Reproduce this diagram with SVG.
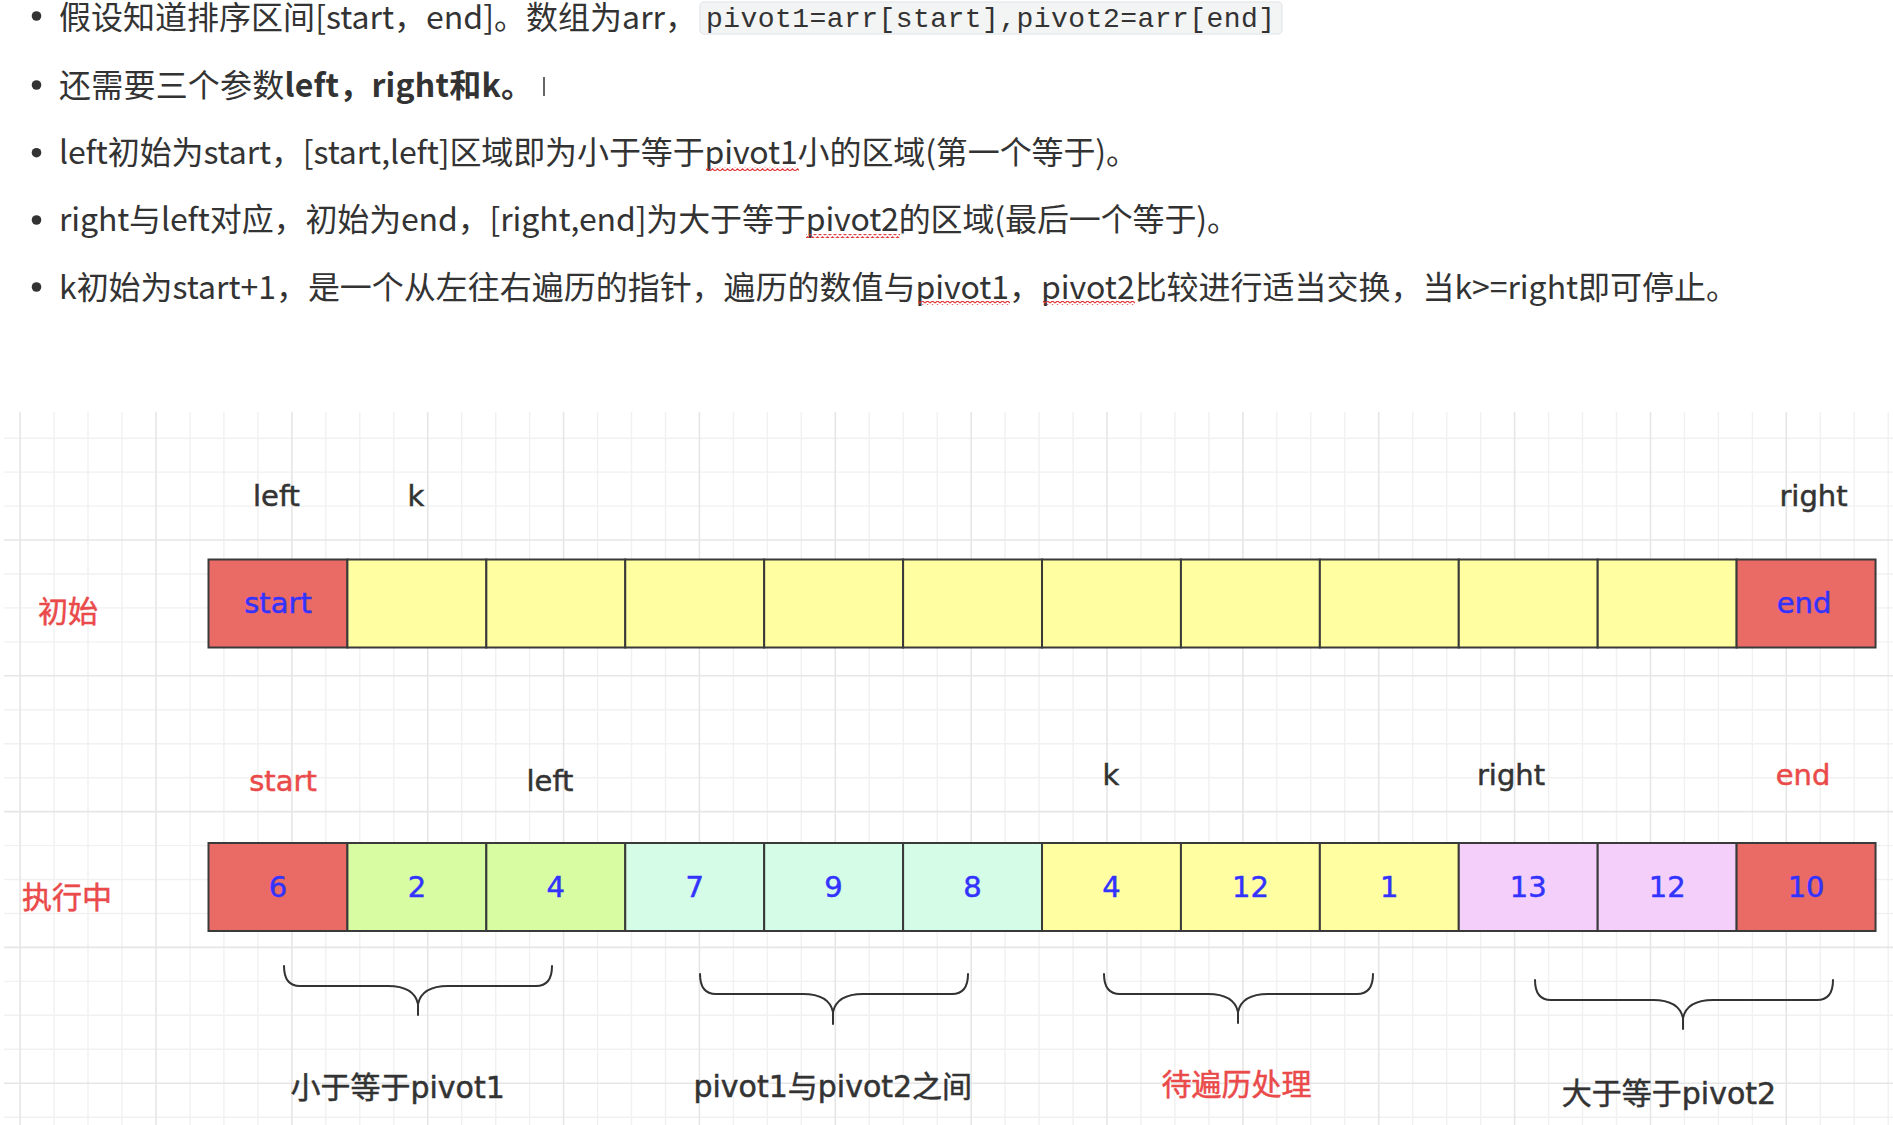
<svg xmlns="http://www.w3.org/2000/svg" width="1893" height="1125" viewBox="0 0 1893 1125">
<style>
.gmin{fill:none;stroke:#f1f1f1;stroke-width:1.4}
.gmaj{fill:none;stroke:#e6e6e6;stroke-width:1.6}
.cell{stroke:#3a3a3a;stroke-width:2}
.red{fill:#EA6B66}.yel{fill:#FFFFA1}.lime{fill:#D7FCA1}.mint{fill:#D5FCE6}.pink{fill:#F3CFFA}
.ct{font-family:"DejaVu Sans",sans-serif;font-size:29px;fill:#3333FF;stroke:#3333FF;stroke-width:0.5;text-anchor:middle}
.lbl{font-family:"DejaVu Sans","Noto Sans CJK SC",sans-serif;font-size:29px;fill:#333333;stroke:#333333;stroke-width:0.5;text-anchor:middle}
.cjk{font-family:"DejaVu Sans","Noto Sans CJK SC",sans-serif;font-size:30px;fill:#333333;stroke:#333333;stroke-width:0.5}
.rd{fill:#EA4A4A;stroke:#EA4A4A}
.brace{fill:none;stroke:#333333;stroke-width:2;stroke-linecap:round}
.doc{font-family:"Noto Sans CJK SC",sans-serif;font-size:32px;fill:#333333}
.code{font-family:"Liberation Mono",monospace;font-size:28px;fill:#333333}
</style>
<defs>
<pattern id="wave" width="5" height="4" patternUnits="userSpaceOnUse"><path d="M0 3 L2.5 0.8 L5 3" fill="none" stroke="#E0393B" stroke-width="1.2"/></pattern>
</defs>
<rect width="1893" height="1125" fill="#ffffff"/>

<g id="doc-text">
<circle cx="36.5" cy="16" r="4.8" fill="#333"/>
<circle cx="36.5" cy="85" r="4.8" fill="#333"/>
<circle cx="36.5" cy="152.7" r="4.8" fill="#333"/>
<circle cx="36.5" cy="220" r="4.8" fill="#333"/>
<circle cx="36.5" cy="287" r="4.8" fill="#333"/>
<text class="doc" x="59" y="28.5" textLength="638">假设知道排序区间[start，end]。数组为arr，</text>
<rect x="700" y="2" width="582" height="32" rx="4" fill="#F3F4F4" stroke="#E7EAED" stroke-width="1.5"/>
<text class="code" x="706" y="27" textLength="569">pivot1=arr[start],pivot2=arr[end]</text>
<text class="doc" x="59" y="96.5" textLength="474">还需要三个参数<tspan font-weight="bold">left，right和k。</tspan></text>
<line x1="544" y1="77" x2="544" y2="96" stroke="#333" stroke-width="1.5"/>
<text class="doc" x="59" y="163.7" textLength="1079">left初始为start，[start,left]区域即为小于等于pivot1小的区域(第一个等于)。</text>
<text class="doc" x="59" y="231.3" textLength="1180">right与left对应，初始为end，[right,end]为大于等于pivot2的区域(最后一个等于)。</text>
<text class="doc" x="59" y="298.9" textLength="1679">k初始为start+1，是一个从左往右遍历的指针，遍历的数值与pivot1，pivot2比较进行适当交换，当k&gt;=right即可停止。</text>
<rect x="706" y="167" width="93" height="4" fill="url(#wave)"/>
<rect x="806" y="234" width="94" height="4" fill="url(#wave)"/>
<rect x="918" y="301" width="92" height="4" fill="url(#wave)"/>
<rect x="1043" y="301" width="92" height="4" fill="url(#wave)"/>
</g>

<g id="grid">
<path class="gmin" d="M54.1 412V1125M88 412V1125M122 412V1125M190 412V1125M223.9 412V1125M257.9 412V1125M325.8 412V1125M359.8 412V1125M393.8 412V1125M461.7 412V1125M495.7 412V1125M529.6 412V1125M597.6 412V1125M631.5 412V1125M665.5 412V1125M733.4 412V1125M767.4 412V1125M801.3 412V1125M869.3 412V1125M903.2 412V1125M937.2 412V1125M1005.1 412V1125M1039.1 412V1125M1073.1 412V1125M1141 412V1125M1174.9 412V1125M1208.9 412V1125M1276.8 412V1125M1310.8 412V1125M1344.8 412V1125M1412.7 412V1125M1446.7 412V1125M1480.6 412V1125M1548.6 412V1125M1582.5 412V1125M1616.5 412V1125M1684.4 412V1125M1718.4 412V1125M1752.4 412V1125M1820.3 412V1125M1854.2 412V1125M1888.2 412V1125"/>
<path class="gmin" d="M4 438.2H1893M4 472.1H1893M4 506.1H1893M4 574H1893M4 607.9H1893M4 641.9H1893M4 709.8H1893M4 743.7H1893M4 777.7H1893M4 845.6H1893M4 879.5H1893M4 913.5H1893M4 981.4H1893M4 1015.3H1893M4 1049.3H1893M4 1117.2H1893"/>
<path class="gmaj" d="M20.1 412V1125M156 412V1125M291.9 412V1125M427.7 412V1125M563.6 412V1125M699.4 412V1125M835.3 412V1125M971.2 412V1125M1107 412V1125M1242.9 412V1125M1378.7 412V1125M1514.6 412V1125M1650.5 412V1125M1786.3 412V1125"/>
<path class="gmaj" d="M4 540H1893M4 675.8H1893M4 811.6H1893M4 947.4H1893M4 1083.2H1893"/>
</g>

<g id="row-labels">
<text class="cjk rd" x="38" y="622">初始</text>
<text class="cjk rd" x="22" y="908">执行中</text>
</g>

<g id="pointers-top">
<text class="lbl" x="276.5" y="506">left</text>
<text class="lbl" x="416" y="506">k</text>
<text class="lbl" x="1813.5" y="506">right</text>
</g>

<g id="pointers-bottom">
<text class="lbl rd" x="283" y="791">start</text>
<text class="lbl" x="550" y="791">left</text>
<text class="lbl" x="1111" y="784.5">k</text>
<text class="lbl" x="1511" y="784.5">right</text>
<text class="lbl rd" x="1803" y="784.5">end</text>
</g>

<g id="initial-array">
<g id="t0"><rect class="cell red" x="208.5" y="559.5" width="138.92" height="88"/><text class="ct" x="278" y="613">start</text></g>
<g id="t1"><rect class="cell yel" x="347.42" y="559.5" width="138.92" height="88"/></g>
<g id="t2"><rect class="cell yel" x="486.34" y="559.5" width="138.92" height="88"/></g>
<g id="t3"><rect class="cell yel" x="625.26" y="559.5" width="138.92" height="88"/></g>
<g id="t4"><rect class="cell yel" x="764.18" y="559.5" width="138.92" height="88"/></g>
<g id="t5"><rect class="cell yel" x="903.1" y="559.5" width="138.92" height="88"/></g>
<g id="t6"><rect class="cell yel" x="1042.02" y="559.5" width="138.92" height="88"/></g>
<g id="t7"><rect class="cell yel" x="1180.94" y="559.5" width="138.92" height="88"/></g>
<g id="t8"><rect class="cell yel" x="1319.86" y="559.5" width="138.92" height="88"/></g>
<g id="t9"><rect class="cell yel" x="1458.78" y="559.5" width="138.92" height="88"/></g>
<g id="t10"><rect class="cell yel" x="1597.7" y="559.5" width="138.92" height="88"/></g>
<g id="t11"><rect class="cell red" x="1736.62" y="559.5" width="138.92" height="88"/><text class="ct" x="1804" y="613">end</text></g>
</g>

<g id="running-array">
<g id="b0"><rect class="cell red" x="208.5" y="843" width="138.92" height="88"/><text class="ct" x="278" y="897">6</text></g>
<g id="b1"><rect class="cell lime" x="347.42" y="843" width="138.92" height="88"/><text class="ct" x="416.9" y="897">2</text></g>
<g id="b2"><rect class="cell lime" x="486.34" y="843" width="138.92" height="88"/><text class="ct" x="555.8" y="897">4</text></g>
<g id="b3"><rect class="cell mint" x="625.26" y="843" width="138.92" height="88"/><text class="ct" x="694.7" y="897">7</text></g>
<g id="b4"><rect class="cell mint" x="764.18" y="843" width="138.92" height="88"/><text class="ct" x="833.6" y="897">9</text></g>
<g id="b5"><rect class="cell mint" x="903.1" y="843" width="138.92" height="88"/><text class="ct" x="972.6" y="897">8</text></g>
<g id="b6"><rect class="cell yel" x="1042.02" y="843" width="138.92" height="88"/><text class="ct" x="1111.5" y="897">4</text></g>
<g id="b7"><rect class="cell yel" x="1180.94" y="843" width="138.92" height="88"/><text class="ct" x="1250.4" y="897">12</text></g>
<g id="b8"><rect class="cell yel" x="1319.86" y="843" width="138.92" height="88"/><text class="ct" x="1389.3" y="897">1</text></g>
<g id="b9"><rect class="cell pink" x="1458.78" y="843" width="138.92" height="88"/><text class="ct" x="1528.2" y="897">13</text></g>
<g id="b10"><rect class="cell pink" x="1597.7" y="843" width="138.92" height="88"/><text class="ct" x="1667.2" y="897">12</text></g>
<g id="b11"><rect class="cell red" x="1736.62" y="843" width="138.92" height="88"/><text class="ct" x="1806.1" y="897">10</text></g>
</g>

<g id="braces">
<path class="brace" d="M284 966 Q284 986 300 986 L388 986 Q414 986 418 1004 L418 1015 M552 966 Q552 986 536 986 L448 986 Q422 986 418 1004"/>
<path class="brace" d="M700 974 Q700 994 716 994 L803 994 Q829 994 833 1012 L833 1024 M968 974 Q968 994 952 994 L863 994 Q837 994 833 1012"/>
<path class="brace" d="M1104 974 Q1104 994 1120 994 L1208 994 Q1234 994 1238 1012 L1238 1023 M1373 974 Q1373 994 1357 994 L1268 994 Q1242 994 1238 1012"/>
<path class="brace" d="M1535 980 Q1535 1000 1551 1000 L1653 1000 Q1679 1000 1683 1018 L1683 1029 M1833 980 Q1833 1000 1817 1000 L1713 1000 Q1687 1000 1683 1018"/>
</g>

<g id="region-labels">
<text class="cjk" x="397.6" y="1098" text-anchor="middle">小于等于pivot1</text>
<text class="cjk" x="832.8" y="1097" text-anchor="middle">pivot1与pivot2之间</text>
<text class="cjk rd" x="1236.5" y="1095" text-anchor="middle">待遍历处理</text>
<text class="cjk" x="1669" y="1104" text-anchor="middle">大于等于pivot2</text>
</g>
</svg>
